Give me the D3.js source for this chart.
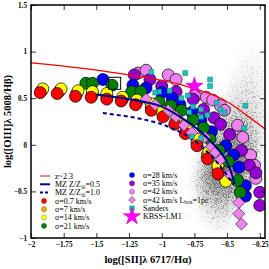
<!DOCTYPE html>
<html>
<head>
<meta charset="utf-8">
<script src="https://cdn.jsdelivr.net/npm/d3@7"></script>
<style>
  body { margin: 0; background: #fff; }
  svg { display: block; }
  text { font-family: "Liberation Serif", "DejaVu Serif", serif; }
</style>
</head>
<body>
<div id="chart"></div>
<script>
/* DATA */
const xTicks = [-2, -1.75, -1.5, -1.25, -1, -0.75, -0.5, -0.25];
const xTickLabels = ["\u22122", "\u22121.75", "\u22121.5", "\u22121.25", "\u22121", "\u22120.75", "\u22120.5", "\u22120.25"];
const yTicks = [-1, -0.5, 0, 0.5, 1, 1.5];
const yTickLabels = ["\u22121", "\u22120.5", "0", "0.5", "1", "1.5"];

// demarcation / MZ tracks
const z23Line = [[-2, 0.88], [-1.6, 0.82], [-1.21, 0.74], [-0.84, 0.64], [-0.6, 0.53], [-0.51, 0.47], [-0.42, 0.39], [-0.335, 0.30], [-0.2, 0.16]];
const mzHalf = [[-1.5, 0.54], [-1.21, 0.48], [-1.02, 0.42], [-0.87, 0.31], [-0.72, 0.16], [-0.6, 0.0], [-0.51, -0.16], [-0.44, -0.42]];
const mzSolar = [[-1.45, 0.34], [-1.2, 0.29], [-1.0, 0.22], [-0.85, 0.13], [-0.72, 0.01], [-0.62, -0.12], [-0.53, -0.27], [-0.45, -0.43]];

// model tracks, one per turbulent velocity
const sig0p7 = [[-1.93, 0.56], [-1.80, 0.55], [-1.66, 0.52], [-1.54, 0.51], [-1.42, 0.49], [-1.31, 0.47], [-1.20, 0.43], [-1.08, 0.37], [-0.99, 0.30], [-0.90, 0.22], [-0.82, 0.12], [-0.73, -0.01], [-0.65, -0.15], [-0.57, -0.31]];
const sig7 = [[-1.92, 0.58], [-1.78, 0.58], [-1.65, 0.55], [-1.53, 0.54], [-1.42, 0.52], [-1.30, 0.49], [-1.19, 0.46], [-1.08, 0.41], [-0.99, 0.33], [-0.89, 0.25], [-0.81, 0.15], [-0.73, 0.03], [-0.65, -0.11], [-0.57, -0.26]];
const sig14 = [[-1.91, 0.60], [-1.77, 0.60], [-1.64, 0.58], [-1.53, 0.57], [-1.42, 0.55], [-1.30, 0.51], [-1.19, 0.48], [-1.08, 0.44], [-1.00, 0.36], [-0.89, 0.28], [-0.81, 0.18], [-0.73, 0.06], [-0.64, -0.07], [-0.57, -0.22], [-0.51, -0.39]];
const sig21 = [[-1.58, 0.66], [-1.53, 0.66], [-1.38, 0.64], [-1.23, 0.57], [-1.16, 0.57], [-1.02, 0.46], [-0.93, 0.42], [-0.85, 0.37], [-0.76, 0.27], [-0.68, 0.18], [-0.63, 0.06], [-0.56, -0.06], [-0.49, -0.18], [-0.42, -0.38], [-0.40, -0.51]];
const sig28 = [[-1.45, 0.70], [-1.22, 0.64], [-1.12, 0.61], [-1.00, 0.56], [-0.92, 0.50], [-0.86, 0.43], [-0.77, 0.35], [-0.70, 0.26], [-0.62, 0.14], [-0.51, -0.01], [-0.45, -0.11], [-0.41, -0.24], [-0.36, -0.44], [-0.36, -0.55]];
const sig35 = [[-1.21, 0.75], [-1.09, 0.70], [-1.00, 0.63], [-0.89, 0.57], [-0.76, 0.49], [-0.68, 0.38], [-0.60, 0.29], [-0.55, 0.22], [-0.48, 0.11], [-0.39, -0.06], [-0.33, -0.22], [-0.28, -0.30], [-0.25, -0.51], [-0.25, -0.65]];
const sig42 = [[-1.18, 0.77], [-1.12, 0.80], [-0.95, 0.75], [-0.89, 0.70], [-0.74, 0.53], [-0.66, 0.51], [-0.61, 0.48], [-0.55, 0.42], [-0.52, 0.37], [-0.42, 0.21], [-0.38, 0.08], [-0.32, -0.11], [-0.29, -0.22], [-0.28, -0.36]];
const sig42box = [[-1.12, 0.49], [-1.05, 0.43], [-0.95, 0.37], [-0.89, 0.30], [-0.83, 0.21], [-0.77, 0.13], [-0.67, 0.08], [-0.62, -0.02], [-0.59, -0.08], [-0.55, -0.16], [-0.48, -0.32], [-0.41, -0.62], [-0.41, -0.74], [-0.39, -0.85]];

// observations
const sanders = [[-1.08, 0.78], [-0.82, 0.77], [-0.63, 0.70], [-0.63, 0.63], [-0.94, 0.58], [-1.02, 0.57], [-1.05, 0.56], [-0.80, 0.53], [-0.85, 0.50], [-0.76, 0.41], [-0.70, 0.38], [-0.70, 0.30], [-0.58, 0.45], [-0.55, 0.38], [-0.52, 0.35], [-0.36, 0.42], [-0.37, 0.18], [-0.77, 0.09], [-0.70, 0.07], [-0.65, 0.32], [-0.79, 0.35]];
const kbssLM1 = [[-0.75, 0.63]];
const boxedModel = [[-1.36, 0.66]];

// local galaxy cloud: [log OIII/Hb, centre log SII/Ha, half width, weight]
const cloudRows = [
  [0.95, -0.31, 0.08, 0.05], [0.8, -0.32, 0.11, 0.08], [0.65, -0.34, 0.13, 0.12],
  [0.5, -0.36, 0.15, 0.16], [0.35, -0.39, 0.17, 0.22], [0.2, -0.42, 0.19, 0.30],
  [0.05, -0.45, 0.20, 0.42], [-0.1, -0.47, 0.21, 0.55], [-0.25, -0.50, 0.21, 0.62],
  [-0.4, -0.53, 0.20, 0.52], [-0.55, -0.55, 0.17, 0.36], [-0.7, -0.56, 0.13, 0.20],
  [-0.85, -0.56, 0.09, 0.08]
];

const legendLeft = [
  { kind: "line", color: "#ff0000", dash: null, label: ["z~2.3"] },
  { kind: "line", color: "#00008b", dash: null, label: ["MZ Z/Z", "\u2299", "=0.5"] },
  { kind: "line", color: "#00008b", dash: "3,2", label: ["MZ Z/Z", "\u2299", "=1.0"] },
  { kind: "dot", color: "#ff0000", label: ["\u03c3=0.7 km/s"] },
  { kind: "dot", color: "#ffa500", label: ["\u03c3=7 km/s"] },
  { kind: "dot", color: "#ffff00", label: ["\u03c3=14 km/s"] },
  { kind: "dot", color: "#008000", label: ["\u03c3=21 km/s"] }
];
const legendRight = [
  { kind: "dot", color: "#0000ff", label: ["\u03c3=28 km/s"] },
  { kind: "dot", color: "#9400d3", label: ["\u03c3=35 km/s"] },
  { kind: "dot", color: "#ee82ee", label: ["\u03c3=42 km/s"] },
  { kind: "diamond", color: "#ee82ee", label: ["\u03c3=42 km/s L", "box", "=1pc"] },
  { kind: "square", color: "#20c0c0", label: ["Sanders"] },
  { kind: "star", color: "#ff00ff", label: ["KBSS-LM1"] }
];

/* LAYOUT */
const width = 269, height = 269;
const L = 31, R = 265, T = 5, B = 238;

const x = d3.scaleLinear().domain([-2, -0.21]).range([L, R]);
const y = d3.scaleLinear().domain([-1, 1.5]).range([B, T]);

const svg = d3.select("#chart").append("svg")
  .attr("width", width).attr("height", height);

const defs = svg.append("defs");
defs.append("clipPath").attr("id", "plotclip")
  .append("rect").attr("x", L).attr("y", T).attr("width", R - L).attr("height", B - T);

// speckled look for the local galaxy cloud
const grain = defs.append("filter").attr("id", "grain")
  .attr("filterUnits", "userSpaceOnUse")
  .attr("x", 0).attr("y", 0).attr("width", width).attr("height", height);
grain.append("feGaussianBlur").attr("in", "SourceGraphic").attr("stdDeviation", 7).attr("result", "soft");
grain.append("feTurbulence").attr("type", "fractalNoise").attr("baseFrequency", 2.2)
  .attr("numOctaves", 1).attr("seed", 7).attr("result", "noise");
grain.append("feColorMatrix").attr("in", "noise").attr("type", "matrix")
  .attr("values", "0 0 0 0 0  0 0 0 0 0  0 0 0 0 0  3 0 0 0 -1").attr("result", "noiseA");
grain.append("feComposite").attr("in", "soft").attr("in2", "noiseA").attr("operator", "arithmetic")
  .attr("k1", 0).attr("k2", 1.5).attr("k3", -1).attr("k4", 0).attr("result", "stip");
grain.append("feComponentTransfer").attr("in", "stip").attr("result", "stipS")
  .append("feFuncA").attr("type", "linear").attr("slope", 1.8);
grain.append("feFlood").attr("flood-color", "#7a7a7a").attr("result", "ink");
grain.append("feComposite").attr("in", "ink").attr("in2", "stipS").attr("operator", "in").attr("result", "dots");
grain.append("feComponentTransfer").attr("in", "soft").attr("result", "haze")
  .append("feFuncA").attr("type", "linear").attr("slope", 0.95);
const merge = grain.append("feMerge");
merge.append("feMergeNode").attr("in", "haze");
merge.append("feMergeNode").attr("in", "dots");

/* CLOUD */
const cloudG = svg.append("g").attr("clip-path", "url(#plotclip)")
  .append("g").attr("filter", "url(#grain)");
cloudG.selectAll("ellipse")
  .data(cloudRows)
  .join("ellipse")
  .attr("cx", d => x(d[1]))
  .attr("cy", d => y(d[0]))
  .attr("rx", d => x(d[1] + d[2]) - x(d[1]))
  .attr("ry", 10)
  .attr("fill", "#7c7c7c")
  .attr("fill-opacity", d => d[3]);

/* MARKERS */
const plot = svg.append("g").attr("clip-path", "url(#plotclip)");

function circles(data, color) {
  plot.append("g").selectAll("circle")
    .data(data)
    .join("circle")
    .attr("cx", d => x(d[0]))
    .attr("cy", d => y(d[1]))
    .attr("r", 6)
    .attr("fill", color)
    .attr("stroke", "#000")
    .attr("stroke-width", 0.7);
}
circles(sig42, "#ee82ee");
circles(sig35, "#9400d3");
circles(sig28, "#0000ff");
circles(sig21, "#008000");
circles(sig7, "#ffa500");
circles(sig14, "#ffff00");
circles(sig0p7, "#ff0000");

plot.append("g").selectAll("path")
  .data(sig42box)
  .join("path")
  .attr("d", d3.symbol(d3.symbolDiamond2, 90))
  .attr("transform", d => `translate(${x(d[0])},${y(d[1])})`)
  .attr("fill", "#ee82ee")
  .attr("stroke", "#333")
  .attr("stroke-width", 0.7);

plot.selectAll("rect.boxed")
  .data(boxedModel)
  .join("rect")
  .attr("class", "boxed")
  .attr("x", d => x(d[0]) - 6).attr("y", d => y(d[1]) - 6)
  .attr("width", 12).attr("height", 12)
  .attr("fill", "none").attr("stroke", "#000").attr("stroke-width", 1);

/* LINES */
const line = d3.line().x(d => x(d[0])).y(d => y(d[1])).curve(d3.curveMonotoneX);
const cr = d3.line().x(d => x(d[0])).y(d => y(d[1])).curve(d3.curveCatmullRom);
plot.append("path").datum(z23Line).attr("d", line)
  .attr("fill", "none").attr("stroke", "#ff0000").attr("stroke-width", 1.3);
plot.append("path").datum(mzHalf).attr("d", cr)
  .attr("fill", "none").attr("stroke", "#00008b").attr("stroke-width", 2);
plot.append("path").datum(mzSolar).attr("d", cr)
  .attr("fill", "none").attr("stroke", "#00008b").attr("stroke-width", 2).attr("stroke-dasharray", "4,3");

plot.append("g").selectAll("path")
  .data(sanders)
  .join("path")
  .attr("d", d3.symbol(d3.symbolSquare, 24))
  .attr("transform", d => `translate(${x(d[0])},${y(d[1])})`)
  .attr("fill", "#20c0c0")
  .attr("stroke", "#117777")
  .attr("stroke-width", 0.5);

plot.append("g").selectAll("path")
  .data(kbssLM1)
  .join("path")
  .attr("d", d3.symbol(d3.symbolStar, 95))
  .attr("transform", d => `translate(${x(d[0])},${y(d[1])})`)
  .attr("fill", "#ff00ff")
  .attr("stroke", "#b000b0")
  .attr("stroke-width", 0.5);

/* AXES */
function axisPass(gen, scale, ticks, labels, minorStep, transform) {
  const g = svg.append("g").attr("transform", transform);
  g.call(gen(scale).tickValues(d3.range(scale.domain()[0], scale.domain()[1] + 1e-9, minorStep))
    .tickSize(-2.5).tickFormat(""));
  g.call(gen(scale).tickValues(ticks).tickSize(-5).tickPadding(4)
    .tickFormat(labels ? (d, i) => labels[i] : ""));
  g.selectAll(".domain").remove();
  g.selectAll("line").attr("stroke", "#000").attr("stroke-width", 0.8);
  g.selectAll("text").attr("fill", "#000").attr("font-size", 7.2).attr("font-weight", "bold")
    .style("font-family", '"Liberation Serif", serif');
  return g;
}
axisPass(d3.axisBottom, x, xTicks, xTickLabels, 0.05, `translate(0,${B})`);
axisPass(d3.axisTop, x, xTicks, null, 0.05, `translate(0,${T})`);
axisPass(d3.axisLeft, y, yTicks, yTickLabels, 0.1, `translate(${L},0)`);
axisPass(d3.axisRight, y, yTicks, null, 0.1, `translate(${R},0)`);

svg.append("rect").attr("x", L).attr("y", T).attr("width", R - L).attr("height", B - T)
  .attr("fill", "none").attr("stroke", "#000").attr("stroke-width", 1.5);

svg.append("text")
  .attr("x", (L + R) / 2).attr("y", 263)
  .attr("text-anchor", "middle").attr("font-size", 10.5).attr("font-weight", "bold")
  .text("log([SII]\u03bb 6717/H\u03b1)");
svg.append("text")
  .attr("transform", `translate(11,${(T + B) / 2}) rotate(-90)`)
  .attr("text-anchor", "middle").attr("font-size", 10.5).attr("font-weight", "bold")
  .text("log([OIII]\u03bb 5008/H\u03b2)");

/* LEGEND */
function legend(entries, mx, tx, y0) {
  const rowH = 8.3;
  entries.forEach((e, i) => {
    const cy = y0 + i * rowH;
    const g = svg.append("g");
    if (e.kind === "line") {
      g.append("line").attr("x1", mx - 4).attr("x2", mx + 6).attr("y1", cy).attr("y2", cy)
        .attr("stroke", e.color).attr("stroke-width", e.color === "#ff0000" ? 1 : 2)
        .attr("stroke-dasharray", e.dash);
    } else if (e.kind === "dot") {
      g.append("circle").attr("cx", mx).attr("cy", cy).attr("r", 2.6)
        .attr("fill", e.color).attr("stroke", "#333").attr("stroke-width", 0.3);
    } else if (e.kind === "diamond") {
      g.append("path").attr("d", d3.symbol(d3.symbolDiamond2, 30))
        .attr("transform", `translate(${mx},${cy})`).attr("fill", e.color)
        .attr("stroke", "#333").attr("stroke-width", 0.5);
    } else if (e.kind === "square") {
      g.append("path").attr("d", d3.symbol(d3.symbolSquare, 20))
        .attr("transform", `translate(${mx},${cy})`).attr("fill", e.color)
        .attr("stroke", "#117777").attr("stroke-width", 0.5);
    } else if (e.kind === "star") {
      g.append("path").attr("d", d3.symbol(d3.symbolStar, 95))
        .attr("transform", `translate(${mx},${cy})`).attr("fill", e.color)
        .attr("stroke", "#b000b0").attr("stroke-width", 0.5);
    }
    const t = g.append("text").attr("x", tx).attr("y", cy + 2.8).attr("font-size", 8);
    t.append("tspan").text(e.label[0]);
    if (e.label.length > 1) {
      t.append("tspan").attr("font-size", 5.5).attr("dy", 1.5).text(e.label[1]);
      t.append("tspan").attr("dy", -1.5).text(e.label[2]);
    }
  });
}
legend(legendLeft, 44, 55, 176);
legend(legendRight, 132, 143, 175);
</script>
</body>
</html>
